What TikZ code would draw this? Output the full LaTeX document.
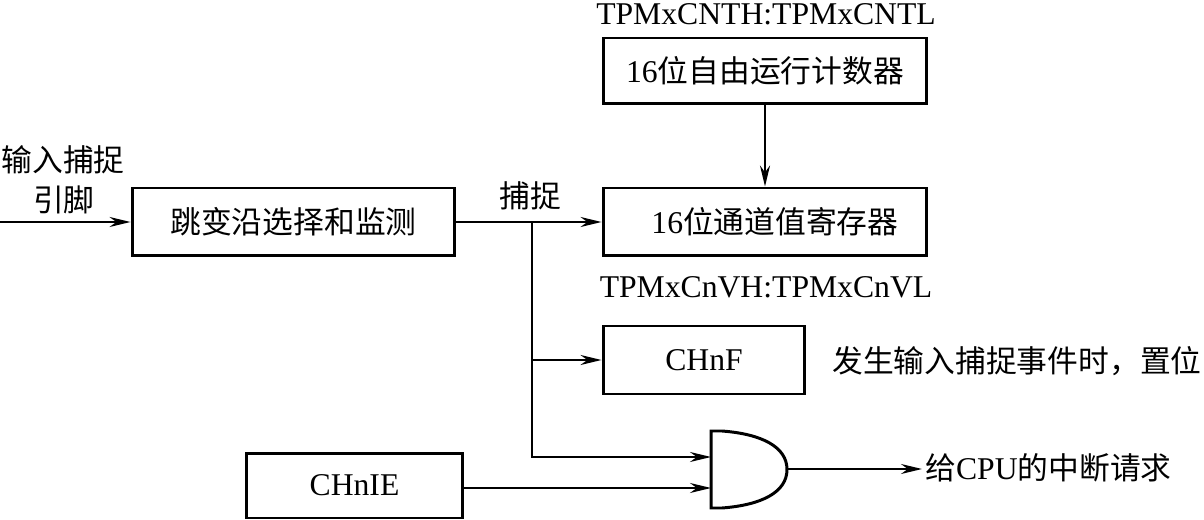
\documentclass[tikz,border=0pt]{standalone}
\usepackage{fontspec}
\setmainfont{Liberation Serif}[Scale=1.06]
\newfontfamily\cjk{Noto Sans CJK SC}[Scale=1.03]
\usetikzlibrary{arrows.meta}
\begin{document}
\begin{tikzpicture}[x=0.02cm,y=-0.02cm,
  box/.style={draw,line width=1.7pt,inner sep=0pt,font=\fontsize{17}{20}\selectfont},
  lbl/.style={inner sep=0pt,font=\fontsize{17}{20}\selectfont},
  wire/.style={line width=1.2pt},
  arr/.style={wire,-{Stealth[length=0.42cm,width=0.2cm]}}]
\useasboundingbox (0,0) rectangle (1204,520);
% boxes
\node[box,minimum width=6.46cm,minimum height=1.36cm] (edge) at (293.5,222) {\cjk 跳变沿选择和监测};
\node[box,minimum width=6.48cm,minimum height=1.32cm] (cnt) at (765,71) {16\cjk 位自由运行计数器};
\node[box,minimum width=6.48cm,minimum height=1.36cm] (reg) at (765,222) {\hspace{0.4cm}16\cjk 位通道值寄存器};
\node[box,minimum width=4.04cm,minimum height=1.36cm] (chnf) at (704,360) {CHnF};
\node[box,minimum width=4.34cm,minimum height=1.30cm] (chnie) at (354.5,485.5) {CHnIE};
% labels
\node[lbl] (l1) at (63,160) {\cjk 输入捕捉};
\node[lbl] (l2) at (64,200) {\cjk 引脚};
\node[lbl] (l3) at (530,196) {\cjk 捕捉};
\node[lbl] (l4) at (766,14) {TPMxCNTH:TPMxCNTL};
\node[lbl] (l5) at (766,287) {TPMxCnVH:TPMxCnVL};
\node[lbl,anchor=west] (l6) at (832,361) {\cjk 发生输入捕捉事件时，置位};
\node[lbl,anchor=west] (l7) at (925,468) {\cjk 给\rmfamily CPU\cjk 的中断请求};
% AND gate
\draw[line width=1.7pt] (711,431) -- (711,508) -- (722,508) .. controls (762,505) and (787,492) .. (787,469.5) .. controls (787,447) and (762,434) .. (722,431) -- cycle;
\coordinate (g1) at (711,457);
\coordinate (g2) at (711,488);
\coordinate (gout) at (787,469);
\coordinate (oend) at (922,469);
\coordinate (in) at (0,222);
\coordinate (br) at (532,222);
% connectors
\draw[arr] (in) -- (edge.west);
\draw[arr] (edge.east) -- (reg.west);
\draw[arr] (cnt.south) -- (reg.north);
\draw[arr] (br) |- (g1);
\draw[arr] (br |- chnf.west) -- (chnf.west);
\draw[arr] (chnie.east |- g2) -- (g2);
\draw[arr] (gout) -- (oend);
\end{tikzpicture}
\end{document}
